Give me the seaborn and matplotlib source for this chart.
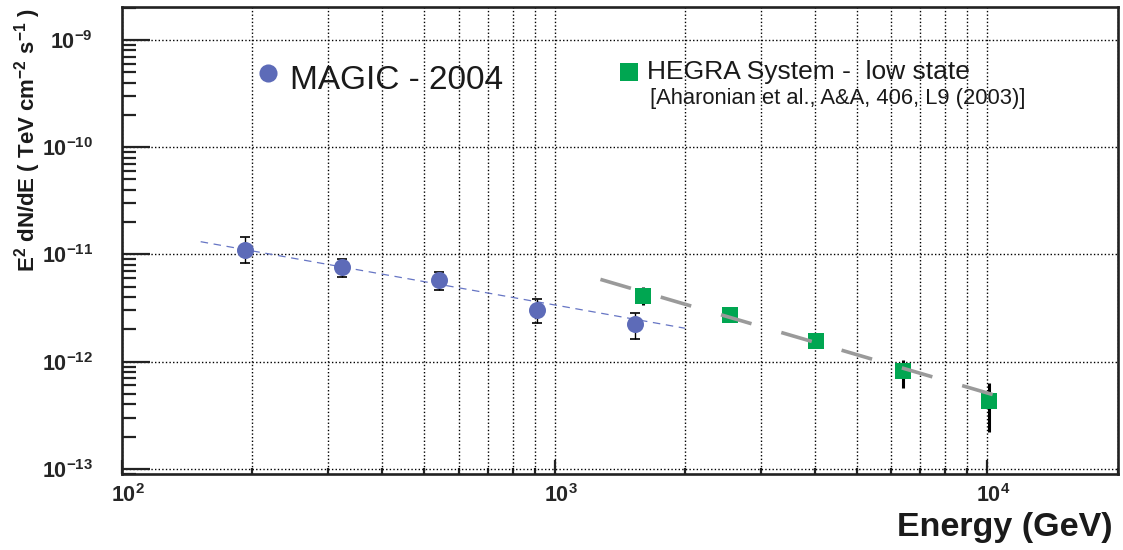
import numpy as np
import pandas as pd
import matplotlib
matplotlib.use("Agg")
import matplotlib.pyplot as plt
from matplotlib.ticker import LogLocator, FixedLocator, NullFormatter, FuncFormatter
from matplotlib.transforms import ScaledTranslation
import seaborn as sns

# ---------------- data ----------------
magic_E = [192, 323, 541, 912, 1530]                       # GeV
magic_F = [1.11e-11, 7.61e-12, 5.72e-12, 3.05e-12, 2.26e-12]
magic_F_lo = [8.24e-12, 6.14e-12, 4.62e-12, 2.31e-12, 1.62e-12]
magic_F_hi = [1.45e-11, 8.98e-12, 6.84e-12, 3.80e-12, 2.86e-12]

hegra_E = [1600, 2540, 4020, 6370, 10100]
hegra_F = [4.07e-12, 2.74e-12, 1.57e-12, 8.13e-13, 4.27e-13]
hegra_F_lo = [3.36e-12, 2.36e-12, 1.35e-12, 5.71e-13, 2.20e-13]
hegra_F_hi = [4.94e-12, 3.18e-12, 1.82e-12, 1.04e-12, 6.36e-13]

magic_fit_E = [152, 2000]
magic_fit_F = [1.314e-11, 2.05e-12]
hegra_fit_E = [1276, 11100]
hegra_fit_F = [5.85e-12, 4.51e-13]

x_ticks = [1e2, 1e3, 1e4]
x_tick_labels = [r"$\mathbf{10^{2}}$", r"$\mathbf{10^{3}}$", r"$\mathbf{10^{4}}$"]
y_ticks = [1e-13, 1e-12, 1e-11, 1e-10, 1e-9]
y_tick_labels = [r"$\mathbf{10^{-13}}$", r"$\mathbf{10^{-12}}$", r"$\mathbf{10^{-11}}$",
                 r"$\mathbf{10^{-10}}$", r"$\mathbf{10^{-9}}$"]

magic_label = "MAGIC - 2004"
hegra_label = "HEGRA System -  low state"
hegra_ref = "[Aharonian et al., A&A, 406, L9 (2003)]"
x_label = "Energy (GeV)"
y_label = r"E$^{\mathbf{2}}$ dN/dE ( TeV cm$^{\mathbf{-2}}$ s$^{\mathbf{-1}}$ )"

# ---------------- style ----------------
sns.set_style("white")
plt.rcParams["font.family"] = ["Liberation Sans", "DejaVu Sans"]
plt.rcParams["mathtext.fontset"] = "custom"
plt.rcParams["mathtext.rm"] = "Liberation Sans"
plt.rcParams["mathtext.bf"] = "Liberation Sans:bold"
plt.rcParams["mathtext.it"] = "Liberation Sans:italic"

BLUE = "#5d6bb8"
BLUE_LINE = "#6675c4"
GREEN = "#00a651"
GRAY = "#9a9a9a"
FRAME = "#222222"

fig = plt.figure(figsize=(11.23, 5.5), dpi=100)
ax = fig.add_axes([122 / 1123, 1 - 474 / 550, (1117.5 - 122) / 1123, (474 - 6.5) / 550])
ax.set_xscale("log")
ax.set_yscale("log")
ax.set_xlim(100, 2e4)
ax.set_ylim(0.896e-13, 2.05e-9)

# grid
ax.set_axisbelow(True)
ax.grid(which="both", axis="x", color="black", linestyle=(0, (1, 1.6)), linewidth=1.0)
ax.grid(which="major", axis="y", color="black", linestyle=(0, (1, 1.6)), linewidth=1.0)

# fit lines
ax.plot(magic_fit_E, magic_fit_F, color=BLUE_LINE, linewidth=0.9,
        linestyle=(0, (6, 4.5)), zorder=2)

# error bars
magic_df = pd.DataFrame({"E": magic_E, "F": magic_F})
hegra_df = pd.DataFrame({"E": hegra_E, "F": hegra_F})
ax.errorbar(magic_E, magic_F,
            yerr=[np.array(magic_F) - np.array(magic_F_lo), np.array(magic_F_hi) - np.array(magic_F)],
            fmt="none", ecolor="black", elinewidth=1.0, capsize=3.5, capthick=1.2, zorder=3)
ax.errorbar(hegra_E, hegra_F,
            yerr=[np.array(hegra_F) - np.array(hegra_F_lo), np.array(hegra_F_hi) - np.array(hegra_F)],
            fmt="none", ecolor="black", elinewidth=2.2, capsize=0, zorder=3)

sns.scatterplot(data=magic_df, x="E", y="F", ax=ax, marker="o", s=150,
                color=BLUE, edgecolor=BLUE, linewidth=0, zorder=4, legend=False)
sns.scatterplot(data=hegra_df, x="E", y="F", ax=ax, marker="s", s=135,
                color=GREEN, edgecolor=GREEN, linewidth=0, zorder=4, legend=False)

ax.plot(hegra_fit_E, hegra_fit_F, color=GRAY, linewidth=2.6,
        linestyle=(0, (8.8, 8.6)), zorder=5, solid_capstyle="butt")

# ticks
ax.xaxis.set_major_locator(FixedLocator(x_ticks))
ax.xaxis.set_major_formatter(FuncFormatter(lambda v, p: x_tick_labels[x_ticks.index(v)] if v in x_ticks else ""))
ax.xaxis.set_minor_locator(LogLocator(base=10, subs=np.arange(2, 10), numticks=20))
ax.xaxis.set_minor_formatter(NullFormatter())
ax.yaxis.set_major_locator(FixedLocator(y_ticks))
ax.yaxis.set_major_formatter(FuncFormatter(lambda v, p: y_tick_labels[y_ticks.index(v)] if v in y_ticks else ""))
ax.yaxis.set_minor_locator(LogLocator(base=10, subs=np.arange(2, 10), numticks=20))
ax.yaxis.set_minor_formatter(NullFormatter())

ax.tick_params(axis="y", which="major", direction="in", length=20, width=1.6, color=FRAME,
               labelsize=15.5, pad=21, left=True, right=False)
ax.tick_params(axis="y", which="minor", direction="in", length=10, width=1.6, color=FRAME,
               left=True, right=False)
ax.tick_params(axis="x", which="major", direction="in", length=10, width=1.6, color=FRAME,
               labelsize=15.5, pad=7.5, bottom=True, top=False)
ax.tick_params(axis="x", which="minor", direction="in", length=4.5, width=1.6, color=FRAME,
               bottom=True, top=False)
for lab in ax.get_yticklabels():
    lab.set_fontweight("bold")
shift = ScaledTranslation(6 / 100, 0, fig.dpi_scale_trans)
for lab in ax.get_xticklabels():
    lab.set_fontweight("bold")
    lab.set_transform(lab.get_transform() + shift)

for sp in ax.spines.values():
    sp.set_color(FRAME)
    sp.set_linewidth(1.9)
    sp.set_visible(True)

# axis labels
ax.set_xlabel(x_label, fontsize=24.5, fontweight="bold", color="#1a1a1a")
ax.xaxis.label.set_ha("right")
ax.xaxis.label.set_va("baseline")
ax.xaxis.set_label_coords((1113 - 122) / 995.5, (474 - 536) / 467.5)
ax.set_ylabel(y_label, fontsize=16, fontweight="bold", color="#1a1a1a")
ax.yaxis.label.set_ha("center")
ax.yaxis.label.set_va("center")
ax.yaxis.set_label_coords((28 - 122) / 995.5, (474 - 140) / 467.5)

# legend (manual, as in reference)
ax.scatter([0.1467], [0.8578], transform=ax.transAxes, s=170, marker="o",
           color=BLUE, linewidth=0, zorder=6, clip_on=False)
ax.text(0.1688, 0.8235, magic_label, transform=ax.transAxes, fontsize=24,
        color="#1a1a1a", ha="left", va="baseline", zorder=6)
ax.scatter([0.5093], [0.8599], transform=ax.transAxes, s=150, marker="s",
           color=GREEN, linewidth=0, zorder=6, clip_on=False)
ax.text(0.5274, 0.8443, hegra_label, transform=ax.transAxes, fontsize=19,
        color="#1a1a1a", ha="left", va="baseline", zorder=6)
ax.text(0.5304, 0.7925, hegra_ref, transform=ax.transAxes, fontsize=15.8,
        color="#1a1a1a", ha="left", va="baseline", zorder=6)

fig.savefig("out.png", dpi=100)
